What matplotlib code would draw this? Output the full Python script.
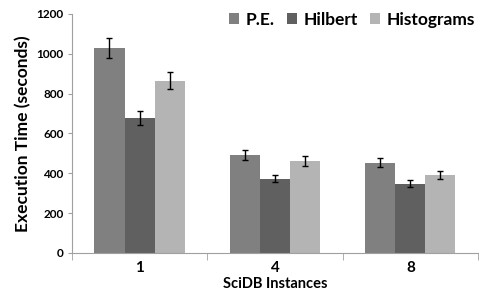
import numpy as np
import matplotlib
matplotlib.use("Agg")
import matplotlib.pyplot as plt

# data
instances = ["1", "4", "8"]
series = ["P.E.", "Hilbert", "Histograms"]
pe = [1030, 492, 453]
hilbert = [676, 373, 347]
histograms = [865, 463, 390]
pe_err = [50, 24, 24]
hilbert_err = [35, 18, 18]
histograms_err = [43, 25, 20]

colors = ["#808080", "#606060", "#b4b4b4"]

plt.rcParams['font.family'] = ['Lato', 'DejaVu Sans']
plt.rcParams['font.weight'] = 'bold'

fig = plt.figure(figsize=(4.79, 3.01), dpi=100)
ax = fig.add_axes([0.150, 0.160, 0.848, 0.794])

x = np.arange(len(instances))
w = 0.222
values = [pe, hilbert, histograms]
errors = [pe_err, hilbert_err, histograms_err]
for i, (vals, errs) in enumerate(zip(values, errors)):
    ax.bar(x + (i - 1) * w, vals, w, color=colors[i], label=series[i],
           yerr=errs, capsize=2.5, error_kw=dict(elinewidth=1.0, capthick=1.0, ecolor="black"))

ax.set_xlim(-0.5, len(instances) - 0.5)
ax.set_ylim(0, 1200)
ax.set_yticks(range(0, 1201, 200))
ax.tick_params(axis='y', labelsize=8.5, length=3, color="#a0a0a0", pad=3)

ax.set_xticks(x)
ax.set_xticklabels(instances, fontsize=11, fontweight='bold')
ax.tick_params(axis='x', length=0, pad=6)
ax.set_xticks(np.arange(len(instances) + 1) - 0.5, minor=True)
ax.tick_params(axis='x', which='minor', length=5, color="#a0a0a0")

for s in ["top", "right"]:
    ax.spines[s].set_visible(False)
for s in ["left", "bottom"]:
    ax.spines[s].set_color("#a0a0a0")

ax.set_ylabel("Execution Time (seconds)", fontsize=12.5, fontweight='bold', labelpad=4)
ax.set_xlabel("SciDB Instances", fontsize=10.5, fontweight='bold', labelpad=1)

ax.legend(loc="upper right", bbox_to_anchor=(1.03, 1.075), ncol=3, frameon=False,
          fontsize=12.5, handlelength=0.6, handleheight=0.6, handletextpad=0.35,
          columnspacing=0.7)

fig.savefig("out.png", dpi=100)
